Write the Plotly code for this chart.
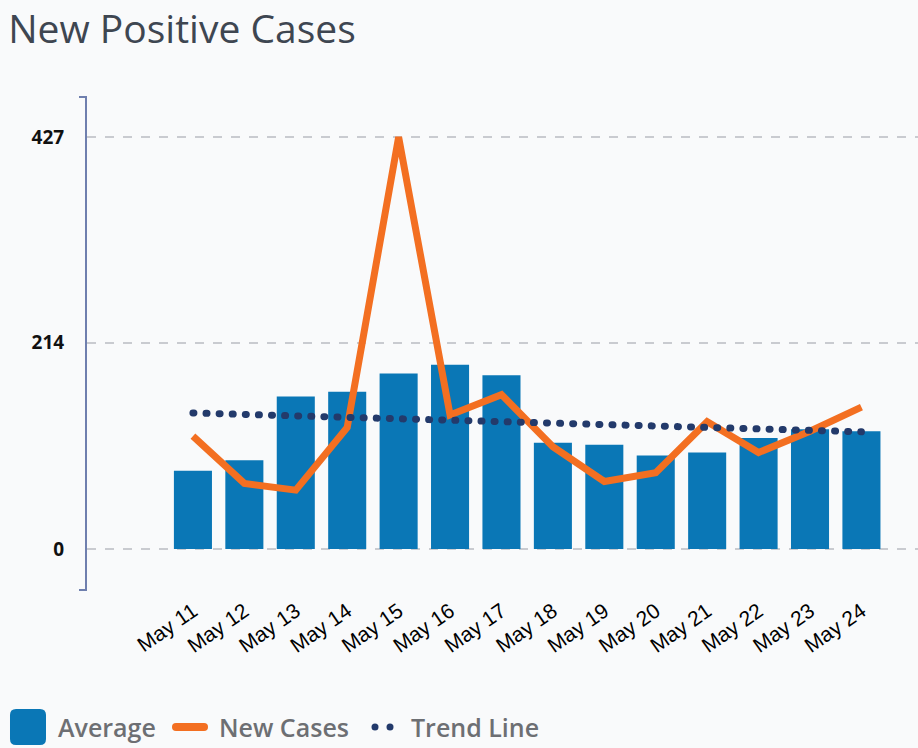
import plotly.graph_objects as go

# data
dates = ["May 11", "May 12", "May 13", "May 14", "May 15", "May 16", "May 17",
         "May 18", "May 19", "May 20", "May 21", "May 22", "May 23", "May 24"]
average = [81, 92, 158, 163, 182, 191, 180, 110, 108, 97, 100, 115, 124, 122]
new_cases = [117, 68, 61, 126, 427, 139, 160, 106, 70, 79, 132, 100, 122, 147]
trend = [141, 139.5, 138, 136.5, 135, 133.5, 132, 130.5, 129, 127.5, 126, 124.5, 123, 121.5]
y_ticks = [0, 214, 427]

W, H = 918, 748
M_L, M_R, M_T, M_B = 87, 0, 97, 158

bar_color = "#0a77b6"
line_color = "#f36f21"
trend_color = "#233a6b"
axis_color = "#6f7fae"
legend_text = "#6d6f73"


def px_x(px):
    # pixel column -> paper x
    return (px - M_L) / (W - M_L - M_R)


def px_y(py):
    # pixel row -> paper y
    return (H - M_B - py) / (H - M_T - M_B)


def round_rect(x0, y0, x1, y1, r):
    # svg path of a rounded box, pixel corners -> paper coords
    pts = [
        ("M", x0 + r, y0), ("L", x1 - r, y0), ("Q", x1, y0, x1, y0 + r),
        ("L", x1, y1 - r), ("Q", x1, y1, x1 - r, y1),
        ("L", x0 + r, y1), ("Q", x0, y1, x0, y1 - r),
        ("L", x0, y0 + r), ("Q", x0, y0, x0 + r, y0),
    ]
    out = []
    for p in pts:
        cmd, vals = p[0], p[1:]
        coords = []
        for i in range(0, len(vals), 2):
            coords.append(f"{px_x(vals[i]):.5f},{px_y(vals[i + 1]):.5f}")
        out.append(cmd + " " + " ".join(coords))
    return " ".join(out) + " Z"


fig = go.Figure()

fig.add_trace(go.Bar(
    x=dates, y=average, name="Average",
    marker=dict(color=bar_color, line=dict(width=0)),
))
fig.add_trace(go.Scatter(
    x=dates, y=new_cases, name="New Cases", mode="lines",
    line=dict(color=line_color, width=7),
))
fig.add_trace(go.Scatter(
    x=dates, y=trend, name="Trend Line", mode="lines",
    line=dict(color=trend_color, width=7, dash="1px,12.1px"),
))

fig.update_layout(
    width=W, height=H,
    margin=dict(l=M_L, r=M_R, t=M_T, b=M_B),
    paper_bgcolor="#f9fafb",
    plot_bgcolor="#f9fafb",
    bargap=0.26,
    showlegend=False,
    title=dict(
        text="New Positive Cases",
        font=dict(family="Open Sans", size=39, color="#3e4651"),
        xref="container", x=0.009, xanchor="left",
        yref="container", y=1 - 29 / H, yanchor="middle",
    ),
    xaxis=dict(
        range=[-2.06, 14.1],
        showgrid=False, showline=False, zeroline=False,
        tickangle=-35,
        tickfont=dict(family="Liberation Sans", size=21, color="#000000"),
        ticks="", ticklabelstandoff=4,
    ),
    yaxis=dict(
        range=[-42.5, 468.5],
        tickvals=y_ticks,
        ticktext=[str(v) for v in y_ticks],
        tickfont=dict(family="Open Sans", size=19, color="#111111", weight="bold"),
        showgrid=True, gridcolor="#c9cbd0", griddash="dash", gridwidth=1.5,
        zeroline=False,
        showline=True, linecolor=axis_color, linewidth=2,
        ticks="", ticklabelstandoff=17,
    ),
)

# bracket ends on the y axis line
for yp in (0, 1):
    fig.add_shape(
        type="line", xref="paper", yref="paper",
        xsizemode="pixel", xanchor=0, x0=-8, x1=0,
        y0=yp, y1=yp,
        line=dict(color=axis_color, width=2),
    )

# legend drawn by hand so the swatches can be as big as in the original
leg_y = 727
fig.add_shape(
    type="path", xref="paper", yref="paper",
    path=round_rect(10, 709, 46, 745, 6),
    fillcolor=bar_color, line=dict(width=0),
)
fig.add_shape(
    type="path", xref="paper", yref="paper",
    path=round_rect(172, leg_y - 4, 208, leg_y + 4, 4),
    fillcolor=line_color, line=dict(width=0),
)
for cx in (375, 390):
    fig.add_shape(
        type="circle", xref="paper", yref="paper",
        x0=px_x(cx - 3.5), x1=px_x(cx + 3.5),
        y0=px_y(leg_y + 3.5), y1=px_y(leg_y - 3.5),
        fillcolor=trend_color, line=dict(width=0),
    )
for label, lx in (("Average", 56), ("New Cases", 217), ("Trend Line", 409)):
    fig.add_annotation(
        text=label, xref="paper", yref="paper",
        x=px_x(lx), y=px_y(leg_y), xanchor="left", yanchor="middle",
        showarrow=False,
        font=dict(family="Open Sans", size=25, color=legend_text, weight=600),
    )

post = """
document.body.style.margin = '0';
var tr = document.querySelectorAll('.scatterlayer .trace');
if (tr.length > 1) {
  tr[1].querySelectorAll('path.js-line').forEach(function (p) {
    p.style.strokeLinecap = 'round';
  });
}
"""

fig.write_html("out.html", post_script=post, config={"displayModeBar": False})
